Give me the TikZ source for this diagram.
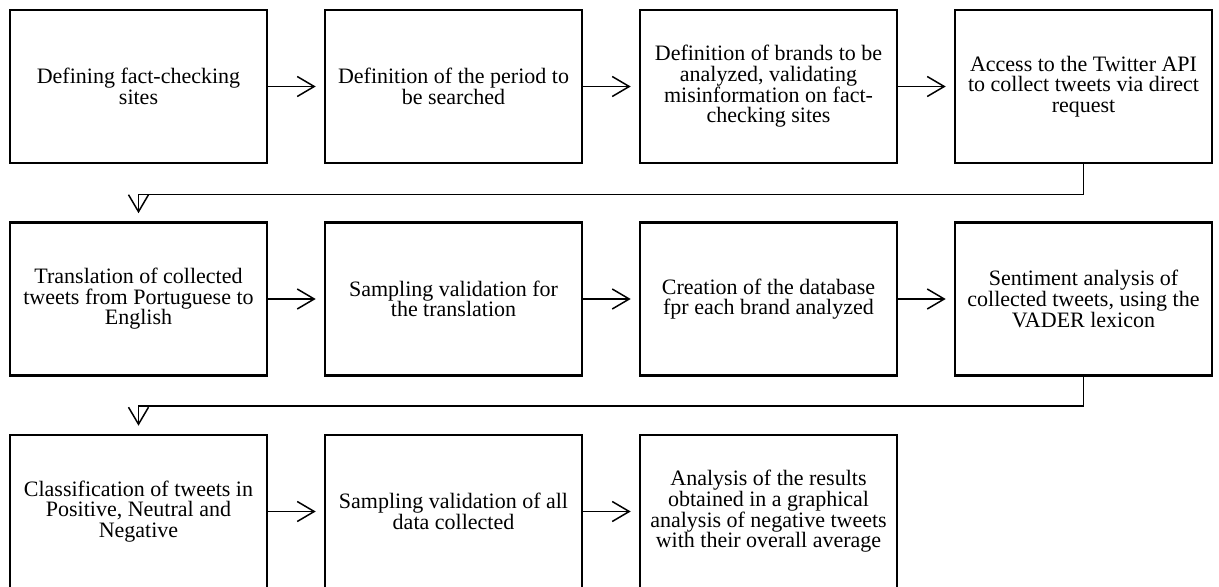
\documentclass[tikz,border=0pt]{standalone}
\usepackage{fontspec}
\setmainfont{Liberation Serif}
\usetikzlibrary{arrows.meta}
\usetikzlibrary{positioning}
\tikzset{>={Straight Barb[length=8.5pt,width=10pt]}}

\begin{document}
\begin{tikzpicture}[stage/.style={rectangle, draw=black, line width=1.3pt, inner sep=0pt, minimum width=128.5pt, minimum height=76.5pt, align=center, font=\fontsize{11}{10.3}\selectfont}, link/.style={->, line width=0.75pt, shorten >=4pt}, node distance=106.25pt and 157.5pt, on grid]
		\useasboundingbox (0,0) rectangle (609.5pt,-293.5pt);
		% first row
		\node[stage] (s1) at (69.25pt,-43.25pt) {Defining fact-checking\\sites};
		\node[stage] (s2) [right=of s1] {Definition of the period to\\be searched};
		\node[stage] (s3) [right=of s2] {Definition of brands to be\\analyzed, validating\\misinformation on fact-\\checking sites};
		\node[stage] (s4) [right=of s3] {Access to the Twitter API\\to collect tweets via direct\\request};
		% second row
		\node[stage] (s5) [below=of s1] {Translation of collected\\tweets from Portuguese to\\English};
		\node[stage] (s6) [right=of s5] {Sampling validation for\\the translation};
		\node[stage] (s7) [right=of s6] {Creation of the database\\fpr each brand analyzed};
		\node[stage] (s8) [right=of s7] {Sentiment analysis of\\collected tweets, using the\\VADER lexicon};
		% third row
		\node[stage] (s9) [below=of s5] {Classification of tweets in\\Positive, Neutral and\\Negative};
		\node[stage] (s10) [right=of s9] {Sampling validation of all\\data collected};
		\node[stage] (s11) [right=of s10] {Analysis of the results\\obtained in a graphical\\analysis of negative tweets\\with their overall average};
		\path[link]
			(s1) edge (s2) (s2) edge (s3) (s3) edge (s4)
			(s5) edge (s6) (s6) edge (s7) (s7) edge (s8)
			(s9) edge (s10) (s10) edge (s11);
		\draw[link] (s4.south) -- ++(0,-15pt) -| (s5.north);
		\draw[link] (s8.south) -- ++(0,-14.5pt) -| (s9.north);
	\end{tikzpicture}
\end{document}
